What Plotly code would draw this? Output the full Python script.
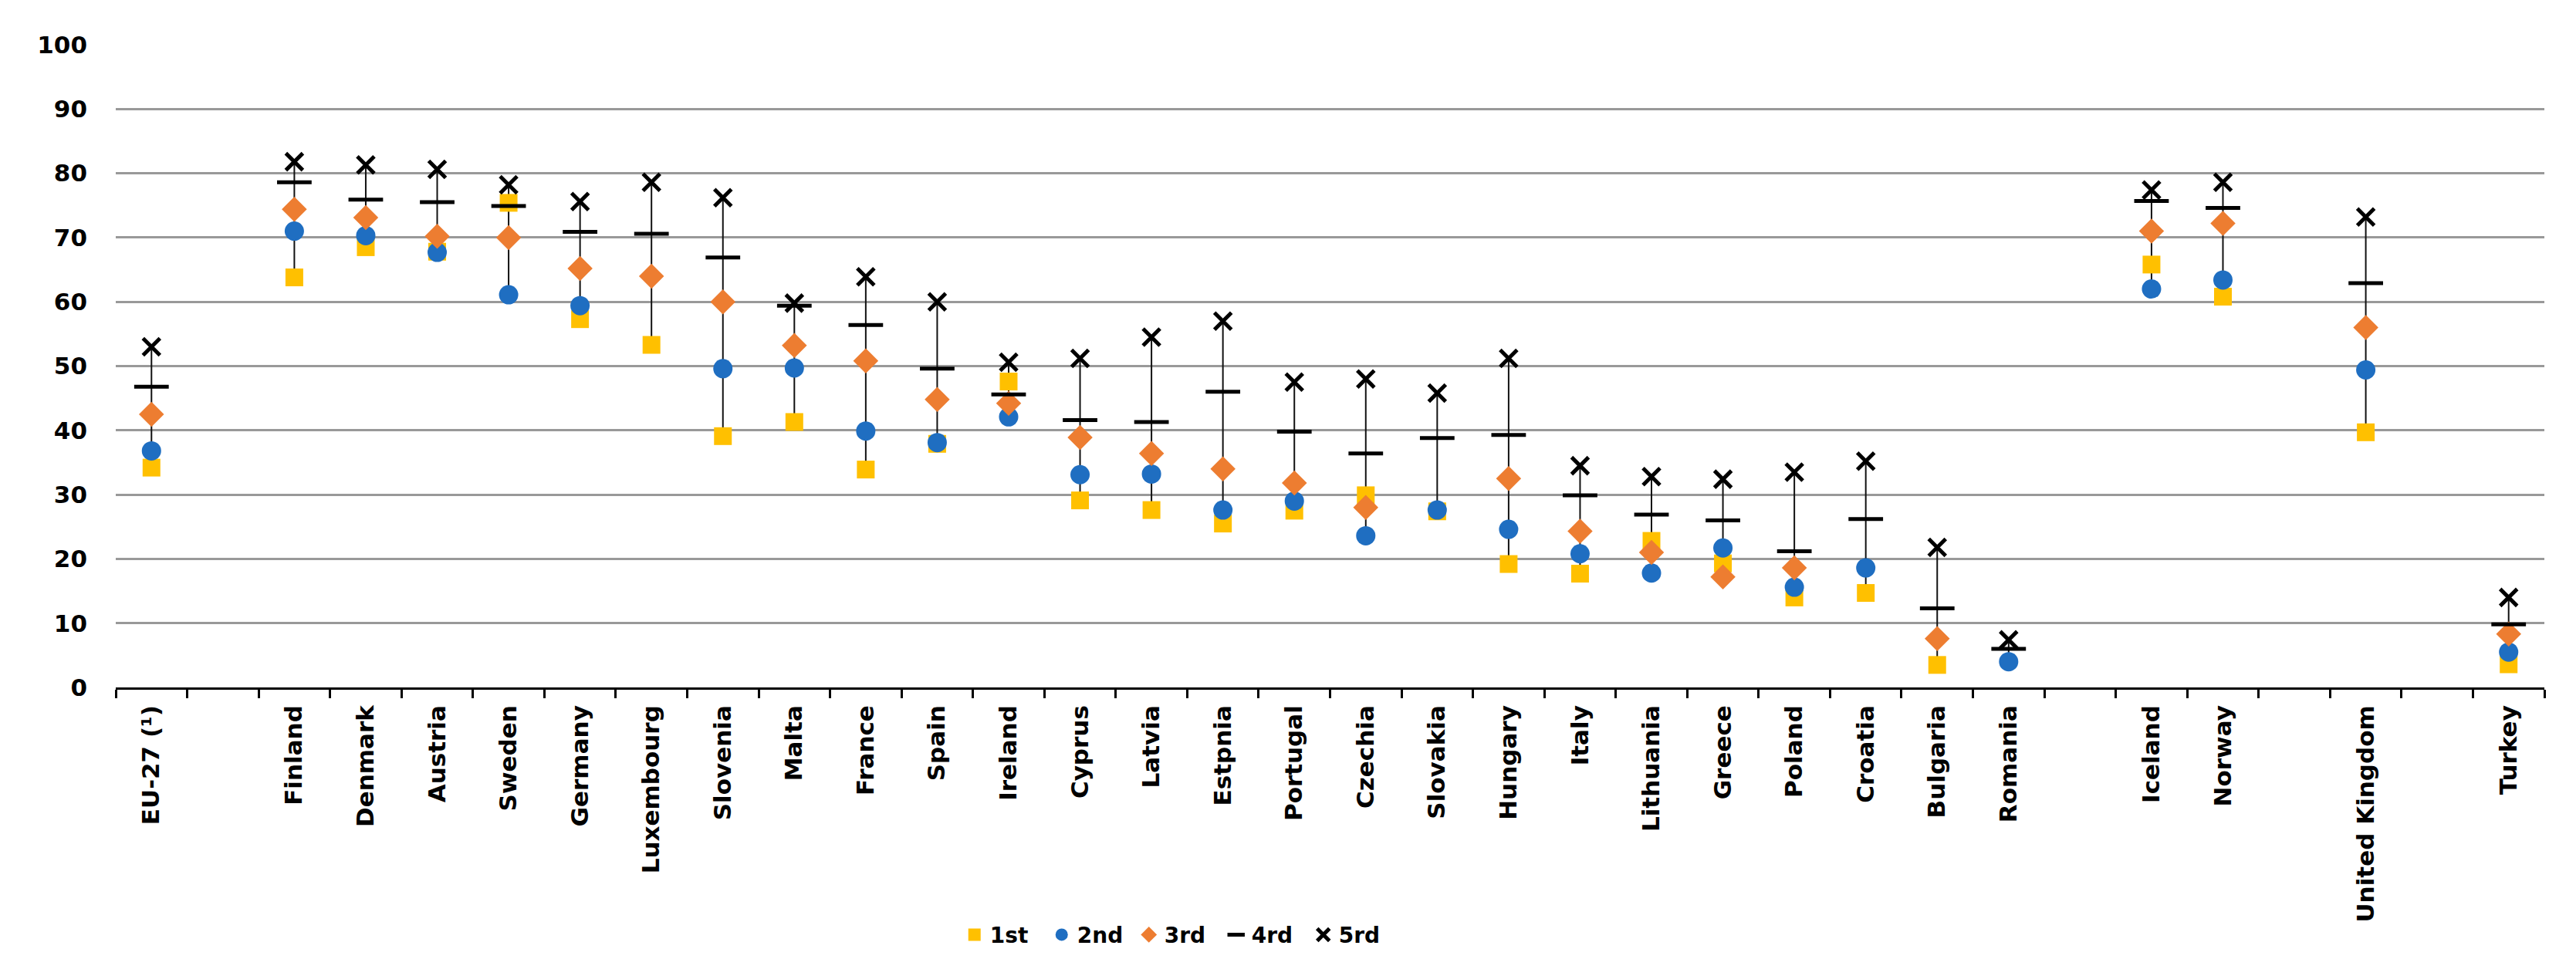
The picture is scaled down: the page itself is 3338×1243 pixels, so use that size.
import plotly.graph_objects as go

# Category order on the axis (blank entries are the empty slots of the original chart)
axis_order = ["EU-27 (¹)", " ", "Finland", "Denmark", "Austria", "Sweden", "Germany", "Luxembourg",
              "Slovenia", "Malta", "France", "Spain", "Ireland", "Cyprus", "Latvia", "Estpnia",
              "Portugal", "Czechia", "Slovakia", "Hungary", "Italy", "Lithuania", "Greece", "Poland",
              "Croatia", "Bulgaria", "Romania", "  ", "Iceland", "Norway", "   ", "United Kingdom",
              "    ", "Turkey"]

countries = ["EU-27 (¹)", "Finland", "Denmark", "Austria", "Sweden", "Germany", "Luxembourg",
             "Slovenia", "Malta", "France", "Spain", "Ireland", "Cyprus", "Latvia", "Estpnia",
             "Portugal", "Czechia", "Slovakia", "Hungary", "Italy", "Lithuania", "Greece", "Poland",
             "Croatia", "Bulgaria", "Romania", "Iceland", "Norway", "United Kingdom", "Turkey"]

q1 = [34.2, 63.8, 68.5, 67.8, 75.4, 57.3, 53.3, 39.1, 41.3, 33.9, 37.9, 47.6, 29.1, 27.6, 25.5,
      27.5, 29.9, 27.4, 19.2, 17.7, 22.8, 19.3, 14.0, 14.7, 3.5, None, 65.8, 60.8, 39.7, 3.6]
q2 = [36.8, 71.0, 70.3, 67.7, 61.1, 59.4, None, 49.6, 49.7, 39.9, 38.1, 42.1, 33.1, 33.2, 27.6,
      29.0, 23.6, 27.6, 24.6, 20.8, 17.8, 21.7, 15.6, 18.6, None, 4.0, 62.0, 63.4, 49.4, 5.5]
q3 = [42.5, 74.4, 73.1, 70.2, 70.0, 65.2, 64.0, 60.0, 53.2, 50.8, 44.8, 44.2, 38.9, 36.4, 34.0,
      31.8, 28.0, None, 32.5, 24.3, 21.0, 17.2, 18.6, None, 7.6, None, 71.0, 72.2, 56.0, 8.3]
q4 = [46.8, 78.6, 75.9, 75.5, 74.9, 70.9, 70.6, 66.9, 59.4, 56.4, 49.6, 45.6, 41.6, 41.3, 46.0,
      39.8, 36.4, 38.8, 39.3, 29.9, 26.9, 26.0, 21.2, 26.2, 12.3, 6.0, 75.7, 74.6, 62.9, 9.8]
q5 = [53.0, 81.8, 81.3, 80.6, 78.2, 75.6, 78.6, 76.2, 59.8, 63.9, 60.0, 50.6, 51.2, 54.5, 57.0,
      47.5, 48.0, 45.8, 51.2, 34.5, 32.8, 32.4, 33.5, 35.2, 21.8, 7.4, 77.4, 78.6, 73.2, 14.0]

series_names = ["1st", "2nd", "3rd", "4rd", "5rd"]

FONT = "DejaVu Sans"

fig = go.Figure()

# high-low lines spanning each country's values
lx, ly = [], []
for i, c in enumerate(countries):
    vals = [s[i] for s in (q1, q2, q3, q4, q5) if s[i] is not None]
    lx += [c, c, None]
    ly += [min(vals), max(vals), None]
fig.add_trace(go.Scatter(x=lx, y=ly, mode="lines", line=dict(color="#111111", width=2),
                         showlegend=False, hoverinfo="skip"))

styles = [
    dict(symbol="square", color="#FFC000", size=23),
    dict(symbol="circle", color="#1F6EC1", size=25),
    dict(symbol="diamond", color="#ED7D31", size=25),
    dict(symbol="line-ew", color="#000000", size=32, line=dict(color="#000000", width=5)),
    dict(symbol="x-thin", color="#000000", size=22, line=dict(color="#000000", width=5)),
]
for name, vals, st in zip(series_names, (q1, q2, q3, q4, q5), styles):
    fig.add_trace(go.Scatter(x=countries, y=vals, mode="markers", name=name, marker=st))

fig.update_layout(
    width=3338, height=1243,
    margin=dict(l=142, r=49, t=50, b=360),
    paper_bgcolor="white", plot_bgcolor="white",
    font=dict(family=FONT, size=30, color="#000000"),
    showlegend=True,
    legend=dict(orientation="h", x=0.437, xanchor="center", y=-0.385, yanchor="middle",
                font=dict(family=FONT, size=28, weight="bold", color="#000000"),
                itemwidth=30, entrywidth=68, entrywidthmode="pixels", tracegroupgap=0),
    xaxis=dict(type="category", categoryorder="array", categoryarray=axis_order,
               range=[-0.5, len(axis_order) - 0.5],
               tickson="boundaries", ticks="outside", ticklen=11, tickwidth=2.5,
               tickcolor="#000000", showline=True, linecolor="#000000", linewidth=2.5,
               showgrid=False, tickangle=-90, ticklabelstandoff=8,
               tickfont=dict(family=FONT, size=31, weight="bold", color="#000000")),
    yaxis=dict(range=[0, 100], dtick=10, tick0=0, showgrid=True, gridcolor="#999999",
               gridwidth=2.5, zeroline=False, showline=False, ticks="",
               ticklabelstandoff=36,
               tickfont=dict(family=FONT, size=31, weight="bold", color="#000000")),
)

fig.write_html("out.html")
